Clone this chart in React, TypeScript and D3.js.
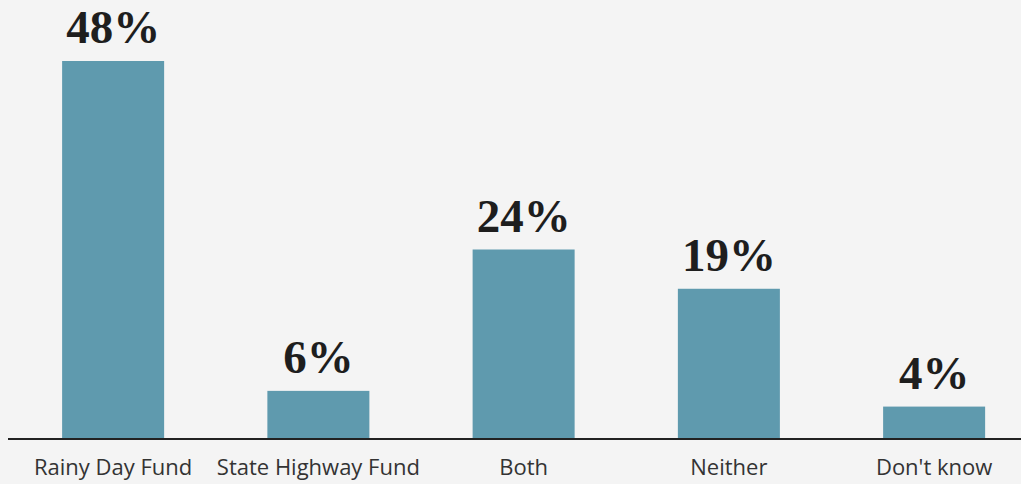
import React from "react";
import * as d3 from "d3";

const categories = ["Rainy Day Fund", "State Highway Fund", "Both", "Neither", "Don't know"];
const values = [48, 6, 24, 19, 4];

const W = 1021;
const H = 484;

export default function App() {
  const x = d3
    .scaleBand<string>()
    .domain(categories)
    .range([10.5, 1036.75])
    .paddingInner(0.503)
    .paddingOuter(0.2515);
  const y = d3.scaleLinear().domain([0, 48]).range([438, 61]);

  return (
    <svg
      width={W}
      height={H}
      style={{ position: "fixed", left: 0, top: 0, display: "block", background: "#f4f4f4" }}
    >
      <rect x={0} y={0} width={W} height={H} fill="#f4f4f4" />
      {categories.map((c, i) => {
        const bx = x(c)!;
        const bw = x.bandwidth();
        const v = values[i];
        return (
          <g key={c}>
            <rect x={bx} y={y(v)} width={bw} height={y(0) - y(v)} fill="#5f9aae" />
            <text
              x={bx + bw / 2}
              y={y(v) - 18}
              textAnchor="middle"
              fontFamily="'Liberation Serif', serif"
              fontWeight="bold"
              fontSize={47}
              fill="#1e1e1e"
            >
              {v}%
            </text>
            <text
              x={bx + bw / 2}
              y={475}
              textAnchor="middle"
              fontFamily="'Open Sans', sans-serif"
              fontSize={22}
              fill="#333"
            >
              {c}
            </text>
          </g>
        );
      })}
      <line x1={8} x2={W} y1={439} y2={439} stroke="#222" strokeWidth={2} />
    </svg>
  );
}
